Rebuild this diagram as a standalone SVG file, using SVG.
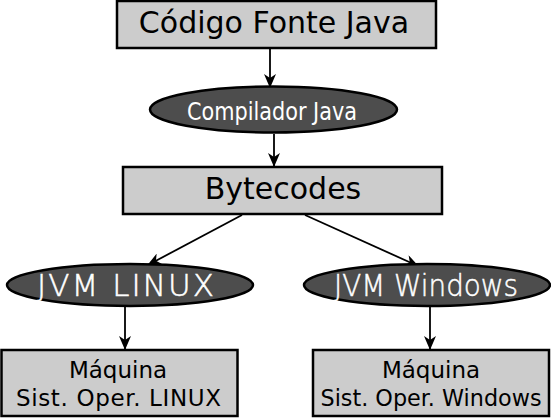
<svg xmlns="http://www.w3.org/2000/svg" width="551" height="418" viewBox="0 0 551 418">
<style>
.box{fill:#cccccc;stroke:#000;stroke-width:2.5}
.ell{fill:#4d4d4d;stroke:#000;stroke-width:2.5}
.t{font-family:"DejaVu Sans","Liberation Sans",sans-serif;fill:#000;text-anchor:middle}
.w{font-family:"DejaVu Sans","Liberation Sans",sans-serif;fill:#fff;stroke:#fff;stroke-width:0.5;text-anchor:middle;font-weight:200}
.c{font-family:"DejaVu Sans","Liberation Sans",sans-serif;fill:#fff;text-anchor:middle}
.edge{stroke:#000;stroke-width:1.8;fill:none;marker-end:url(#ah)}
</style>
<defs>
<marker id="ah" markerWidth="14" markerHeight="12" refX="13" refY="6" orient="auto" markerUnits="userSpaceOnUse">
<path d="M0,0 L14,6 L0,12 L4,6 z" fill="#000"/>
</marker>
</defs>
<g id="connectors">
<line class="edge" x1="270" y1="49" x2="270" y2="87"/>
<line class="edge" x1="274" y1="134" x2="274" y2="166"/>
<line class="edge" x1="242" y1="215" x2="148" y2="265"/>
<line class="edge" x1="305" y1="215" x2="418" y2="266"/>
<line class="edge" x1="125" y1="307" x2="125" y2="349"/>
<line class="edge" x1="430" y1="307" x2="430" y2="349"/>
</g>
<g id="codigo">
<rect class="box" x="117" y="1" width="319" height="47"/>
<text class="t" x="274" y="33" font-size="30">Código Fonte Java</text>
</g>
<g id="compilador">
<ellipse class="ell" cx="273.5" cy="109.5" rx="123.5" ry="23"/>
<text class="c" x="272" y="120" font-size="25" textLength="170" lengthAdjust="spacingAndGlyphs">Compilador Java</text>
</g>
<g id="bytecodes">
<rect class="box" x="123" y="167" width="319" height="47"/>
<text class="t" x="283" y="199" font-size="30">Bytecodes</text>
</g>
<g id="jvmlinux">
<ellipse class="ell" cx="130" cy="285" rx="123" ry="21"/>
<text class="w" x="125.5" y="296" font-size="31" textLength="177">JVM LINUX</text>
</g>
<g id="jvmwindows">
<ellipse class="ell" cx="427" cy="285" rx="123" ry="21"/>
<text class="w" x="426" y="296" font-size="31" textLength="184" lengthAdjust="spacingAndGlyphs">JVM Windows</text>
</g>
<g id="maqlinux">
<rect class="box" x="1.5" y="350" width="236" height="66"/>
<text class="t" x="118" y="378" font-size="23">Máquina</text>
<text class="t" x="118.5" y="406" font-size="23" textLength="205">Sist. Oper. LINUX</text>
</g>
<g id="maqwindows">
<rect class="box" x="313" y="350" width="236" height="66"/>
<text class="t" x="431" y="378" font-size="23">Máquina</text>
<text class="t" x="431" y="406" font-size="23" textLength="221" lengthAdjust="spacingAndGlyphs">Sist. Oper. Windows</text>
</g>
</svg>
